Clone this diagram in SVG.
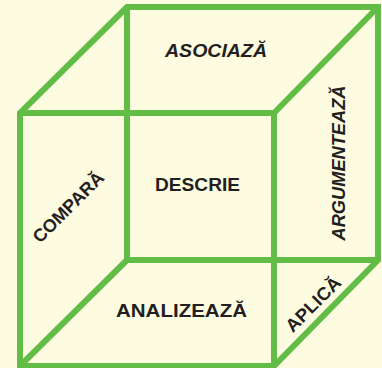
<svg xmlns="http://www.w3.org/2000/svg" width="382" height="368" viewBox="0 0 382 368">
<style>
.edge{fill:none;stroke:#62bd47;stroke-width:6;stroke-linejoin:miter;stroke-miterlimit:4}
.lbl{font-family:"Liberation Sans",Arial,sans-serif;font-weight:bold;font-size:18px;fill:#231f20;text-anchor:middle}
.it{font-style:italic}
</style>
<rect width="382" height="368" fill="#fefce0"/>
<g id="connectors">
<path class="edge" d="M127,260 L127,7 M127,260 L378,260 M127,260 L20,366 M274,113 L378,7"/>
<path class="edge" d="M20,366 L20,113 L127,7 L378,7 L378,260 L274,366 Z"/>
<path class="edge" d="M20,113 L274,113 L274,366"/>
</g>
<g id="asociaza"><text class="lbl it" x="216" y="57" textLength="102" lengthAdjust="spacingAndGlyphs">ASOCIAZĂ</text></g>
<g id="descrie"><text class="lbl" x="197.5" y="191" textLength="85" lengthAdjust="spacingAndGlyphs">DESCRIE</text></g>
<g id="analizeaza"><text class="lbl" x="181.5" y="317" textLength="131" lengthAdjust="spacingAndGlyphs">ANALIZEAZĂ</text></g>
<g id="compara"><text class="lbl" transform="translate(68,207) rotate(-45)" x="0" y="6.5" textLength="92" lengthAdjust="spacingAndGlyphs">COMPARĂ</text></g>
<g id="argumenteaza"><text class="lbl it" transform="translate(345,163) rotate(-90)" x="0" y="0" textLength="155" lengthAdjust="spacingAndGlyphs">ARGUMENTEAZĂ</text></g>
<g id="aplica"><text class="lbl" transform="translate(313,304) rotate(-45)" x="0" y="6.5" textLength="70" lengthAdjust="spacingAndGlyphs">APLICĂ</text></g>
</svg>
